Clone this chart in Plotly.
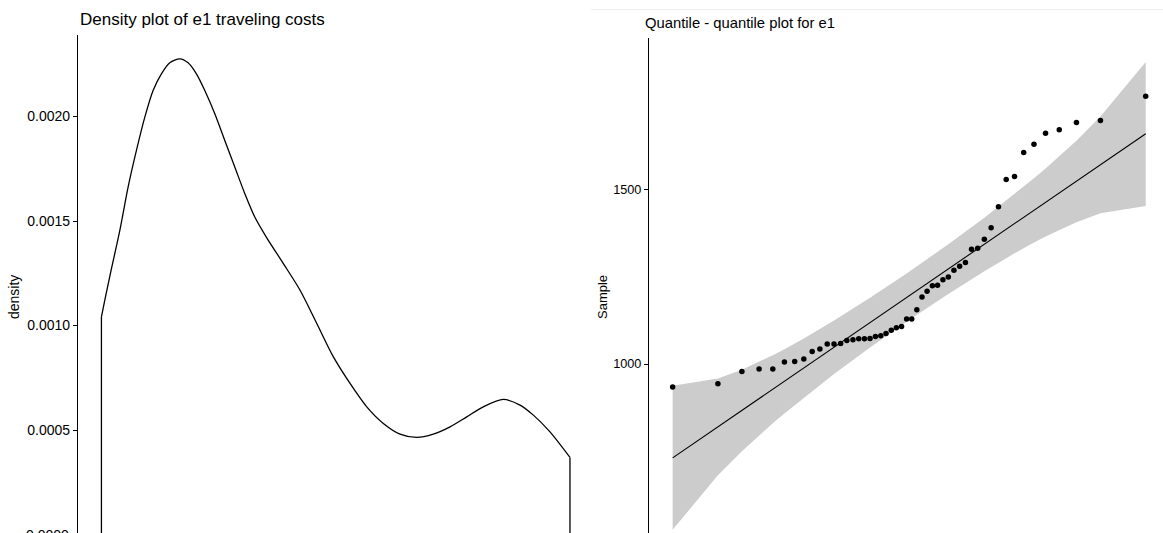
import plotly.graph_objects as go

# ---------------- Data ----------------
# Density estimate of e1 traveling costs
dens_x = [934.0, 940.0, 951.8, 966.7, 981.4, 996.2, 1011.1, 1025.8, 1040.6, 1055.5,
          1073.3, 1088.0, 1102.8, 1117.7, 1135.5, 1153.2, 1171.0, 1188.8, 1206.5, 1227.8,
          1257.3, 1287.0, 1316.7, 1346.2, 1375.8, 1405.5, 1435.0, 1464.6, 1494.3, 1523.8,
          1553.5, 1583.1, 1612.6, 1648.2, 1677.8, 1701.5, 1731.1, 1766.6]
dens_y = [0.0010414, 0.0011212, 0.0012720, 0.0014556, 0.0016624, 0.0018377, 0.0019968,
          0.0021244, 0.0022041, 0.0022567, 0.0022758, 0.0022567, 0.0022041, 0.0021244,
          0.0020131, 0.0018855, 0.0017580, 0.0016309, 0.0015191, 0.0014198, 0.0012965,
          0.0011690, 0.0010099, 0.0008503, 0.0007233, 0.0006115, 0.0005322, 0.0004811,
          0.0004653, 0.0004811, 0.0005159, 0.0005637, 0.0006115, 0.0006468, 0.0006196,
          0.0005718, 0.0004920, 0.0003697]

# QQ plot: theoretical normal quantiles (n = 50) and sorted sample values
theoretical = [-2.326, -1.881, -1.645, -1.476, -1.341, -1.227, -1.126, -1.036, -0.954, -0.878,
               -0.806, -0.739, -0.674, -0.613, -0.553, -0.496, -0.440, -0.385, -0.332, -0.279,
               -0.228, -0.176, -0.126, -0.075, -0.025, 0.025, 0.075, 0.126, 0.176, 0.228,
               0.279, 0.332, 0.385, 0.440, 0.496, 0.553, 0.613, 0.674, 0.739, 0.806,
               0.878, 0.954, 1.036, 1.126, 1.227, 1.341, 1.476, 1.645, 1.881, 2.326]
sample = [934.0, 943.5, 978.8, 985.7, 985.7, 1005.7, 1007.5, 1014.3, 1036.1, 1043.0,
          1057.4, 1057.4, 1059.1, 1067.7, 1069.7, 1072.6, 1072.6, 1073.4, 1079.2, 1081.2,
          1087.8, 1097.0, 1104.1, 1107.9, 1129.1, 1129.1, 1155.8, 1192.2, 1208.3, 1224.6,
          1225.5, 1241.8, 1249.6, 1268.5, 1280.0, 1290.6, 1328.7, 1331.6, 1357.4, 1390.1,
          1450.4, 1528.7, 1537.3, 1606.1, 1629.9, 1661.5, 1671.3, 1692.2, 1697.9, 1766.8]

# Reference line (intercept, slope) and confidence band
line_intercept = 1195.6
line_slope = 199.6
band_z = [-2.326, -1.881, -1.645, -1.476, -1.341, -1.227, -1.036, -0.739, -0.385, -0.025,
          0.025, 0.385, 0.739, 1.036, 1.227, 1.341, 1.476, 1.645, 1.881, 2.326]
band_lower = [525.2, 681.5, 750.4, 795.8, 830.3, 858.5, 904.0, 971.2, 1047.2, 1120.9,
              1130.9, 1200.8, 1266.0, 1317.2, 1347.9, 1365.1, 1384.4, 1406.4, 1431.7, 1452.8]
band_upper = [937.6, 958.7, 984.0, 1006.0, 1025.3, 1042.5, 1073.2, 1124.4, 1189.6, 1259.5,
              1269.5, 1343.2, 1419.2, 1486.4, 1531.9, 1560.1, 1594.6, 1640.0, 1708.9, 1865.2]

left_ticks = [0.0005, 0.0010, 0.0015, 0.0020]
left_ticktext = ["0.0005", "0.0010", "0.0015", "0.0020"]
right_ticks = [1000, 1500]

# ---------------- Figure ----------------
W, H = 1163, 533
FONT = "Liberation Sans, Arial, Helvetica, sans-serif"


def px_x(p):
    return p / W


def px_y(p):
    return 1 - p / H


fig = go.Figure()

# density curve
fig.add_trace(go.Scatter(x=dens_x, y=dens_y, mode="lines",
                         line=dict(color="black", width=1.3, shape="spline", smoothing=0.8),
                         xaxis="x", yaxis="y", showlegend=False, hoverinfo="skip"))
# vertical edges of the density outline
fig.add_trace(go.Scatter(x=[dens_x[0], dens_x[0], None, dens_x[-1], dens_x[-1]],
                         y=[0, dens_y[0], None, dens_y[-1], 0], mode="lines",
                         line=dict(color="black", width=1.3),
                         xaxis="x", yaxis="y", showlegend=False, hoverinfo="skip"))

# confidence band
fig.add_trace(go.Scatter(x=band_z + band_z[::-1], y=band_upper + band_lower[::-1],
                         mode="lines", fill="toself", fillcolor="#cccccc",
                         line=dict(width=0, color="#cccccc"),
                         xaxis="x2", yaxis="y2", showlegend=False, hoverinfo="skip"))
# reference line
line_x = [theoretical[0], theoretical[-1]]
line_y = [line_intercept + line_slope * v for v in line_x]
fig.add_trace(go.Scatter(x=line_x, y=line_y, mode="lines",
                         line=dict(color="black", width=1.1),
                         xaxis="x2", yaxis="y2", showlegend=False, hoverinfo="skip"))
# sample points
fig.add_trace(go.Scatter(x=theoretical, y=sample, mode="markers",
                         marker=dict(color="black", size=5.5),
                         xaxis="x2", yaxis="y2", showlegend=False))

x_span = dens_x[-1] - dens_x[0]
z_span = theoretical[-1] - theoretical[0]

common_y = dict(showgrid=False, zeroline=False, showline=True, linecolor="black",
                linewidth=1.2, ticks="outside", ticklen=4, tickwidth=1.1,
                tickcolor="black")
common_x = dict(showgrid=False, zeroline=False, showline=False, showticklabels=False,
                ticks="")

fig.update_layout(
    width=W, height=H,
    margin=dict(l=0, r=0, t=0, b=0),
    plot_bgcolor="white", paper_bgcolor="white",
    font=dict(family=FONT, color="black"),
    xaxis=dict(domain=[px_x(78), px_x(593.4)],
               range=[dens_x[0] - 0.05 * x_span, dens_x[-1] + 0.05 * x_span], **common_x),
    yaxis=dict(domain=[0, px_y(35)], range=[0.0000081, 0.0023896],
               tickvals=left_ticks, ticktext=left_ticktext,
               tickfont=dict(family=FONT, color="black", size=14), **common_y),
    xaxis2=dict(domain=[px_x(649), 1],
                range=[theoretical[0] - 0.05 * z_span, 2.496], anchor="y2", **common_x),
    yaxis2=dict(domain=[0, px_y(38)], range=[516, 1934], anchor="x2",
                tickvals=right_ticks,
                tickfont=dict(family=FONT, color="black", size=12.7), **common_y),
)

annotations = [
    dict(text="Density plot of e1 traveling costs", x=px_x(78), y=px_y(20),
         xanchor="left", yanchor="middle", size=17),
    dict(text="Quantile - quantile plot for e1", x=px_x(643), y=px_y(23),
         xanchor="left", yanchor="middle", size=14.8),
    dict(text="density", x=px_x(14), y=px_y(297), textangle=-90,
         xanchor="center", yanchor="middle", size=14),
    dict(text="Sample", x=px_x(602), y=px_y(297), textangle=-90,
         xanchor="center", yanchor="middle", size=13),
    dict(text="0.0000", x=px_x(71), y=px_y(535), xanchor="right", yanchor="middle",
         size=14),
]
for a in annotations:
    size = a.pop("size")
    a.update(xref="paper", yref="paper", showarrow=False,
             font=dict(family=FONT, color="black", size=size))
fig.update_layout(annotations=annotations)

# faint separator line at the top of the right panel
fig.add_shape(type="line", xref="paper", yref="paper", x0=px_x(591), x1=1,
              y0=px_y(9.5), y1=px_y(9.5), line=dict(color="#eeeeee", width=1))

fig.write_html(
    "out.html",
    config={"displayModeBar": False},
    post_script="document.body.style.margin='0';document.body.style.overflow='hidden';",
)
